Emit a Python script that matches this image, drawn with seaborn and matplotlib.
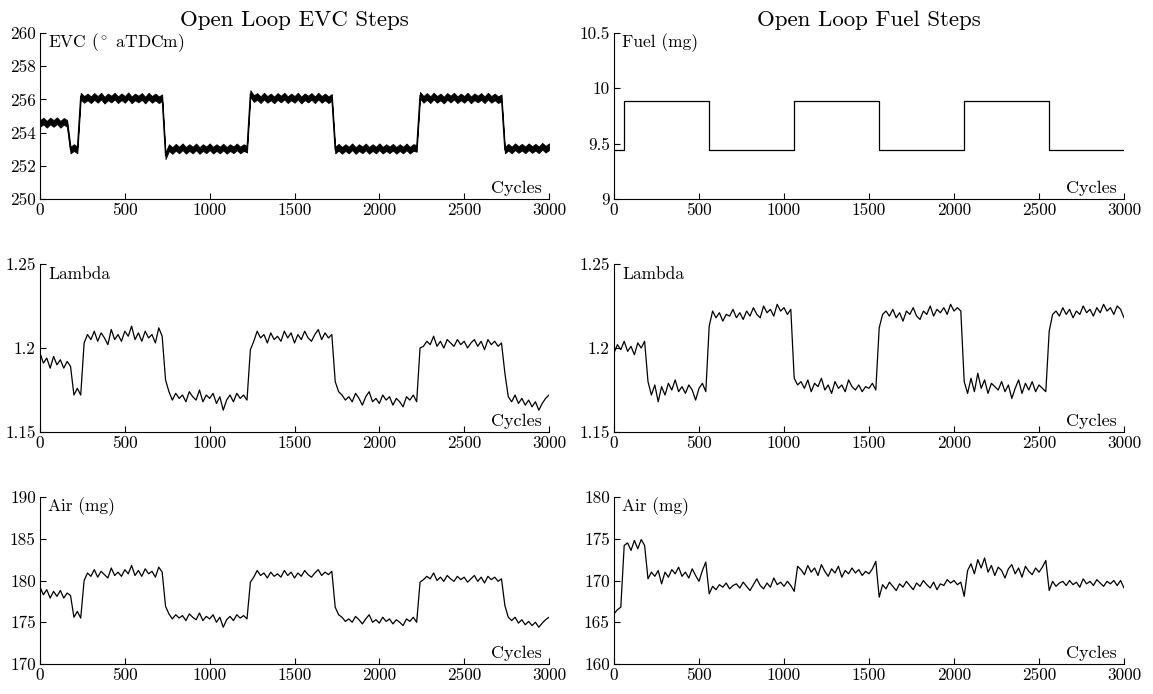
import numpy as np
import matplotlib
matplotlib.use("Agg")
import matplotlib.pyplot as plt
import seaborn as sns

# ---------------- data ----------------
cycles = np.arange(0, 3001, 20)

# Left column: open-loop EVC steps
evc_center = [254.55, 254.7, 254.5, 254.7, 254.55, 254.72, 254.5, 254.68, 254.55,
              252.95, 253.1, 252.95,
              256.2, 256.0, 256.15, 255.98, 256.18, 256.0, 256.2, 255.95, 256.15, 256.02, 256.2, 255.98, 256.16,
              256.0, 256.22, 255.97, 256.15, 256.02, 256.18, 255.96, 256.2, 256.0, 256.15, 255.98, 256.1,
              252.6,
              253.1, 252.92, 253.12, 252.95, 253.15, 252.93, 253.1, 252.95, 253.14, 252.92, 253.1, 252.96,
              253.15, 252.94, 253.1, 252.95, 253.13, 252.93, 253.1, 252.96, 253.14, 252.95, 253.1, 253.0,
              256.35,
              256.05, 256.18, 255.98, 256.2, 256.0, 256.15, 255.97, 256.18, 256.02, 256.2, 255.98, 256.15,
              256.0, 256.2, 255.96, 256.16, 256.02, 256.18, 255.98, 256.2, 256.0, 256.15, 255.98, 256.12,
              252.95, 253.12, 252.93, 253.1, 252.95, 253.15, 252.92, 253.1, 252.96, 253.14, 252.93, 253.1,
              252.95, 253.15, 252.94, 253.1, 252.96, 253.12, 252.93, 253.1, 252.95, 253.14, 252.94, 253.1, 253.05,
              256.25, 256.0, 256.18, 255.98, 256.2, 256.0, 256.15, 255.96, 256.18, 256.02, 256.2, 255.98,
              256.15, 256.0, 256.2, 255.97, 256.16, 256.02, 256.18, 255.98, 256.2, 256.0, 256.15, 255.98, 256.1,
              252.95, 253.12, 252.95, 253.15, 252.98, 253.12, 252.96, 253.15, 252.98, 253.12, 252.96, 253.18,
              253.0, 253.15]
evc_band = 0.2

lambda_evc = [1.197, 1.191, 1.194, 1.188, 1.195, 1.190, 1.193, 1.188, 1.192,
              1.189, 1.172, 1.176, 1.172, 1.203,
              1.208, 1.205, 1.210, 1.204, 1.209, 1.206, 1.202, 1.211, 1.205, 1.208, 1.204, 1.210,
              1.207, 1.213, 1.205, 1.209, 1.204, 1.210, 1.206, 1.208, 1.203, 1.212, 1.207,
              1.181, 1.174,
              1.169, 1.173, 1.170, 1.172, 1.168, 1.174, 1.171, 1.169, 1.175, 1.168, 1.172, 1.170,
              1.173, 1.167, 1.171, 1.163, 1.169, 1.172, 1.168, 1.173, 1.170, 1.172, 1.169,
              1.199, 1.204,
              1.210, 1.206, 1.208, 1.203, 1.209, 1.205, 1.207, 1.204, 1.210, 1.206, 1.209, 1.203,
              1.208, 1.205, 1.210, 1.206, 1.204, 1.208, 1.211, 1.205, 1.209, 1.206, 1.208,
              1.180, 1.174,
              1.172, 1.169, 1.171, 1.168, 1.173, 1.170, 1.166, 1.171, 1.174, 1.168, 1.170, 1.167,
              1.172, 1.169, 1.171, 1.166, 1.170, 1.168, 1.165, 1.171, 1.169, 1.172, 1.168,
              1.200, 1.201,
              1.204, 1.202, 1.207, 1.201, 1.204, 1.200, 1.205, 1.203, 1.201, 1.205, 1.202, 1.204,
              1.200, 1.203, 1.205, 1.201, 1.204, 1.199, 1.205, 1.202, 1.204, 1.201, 1.203,
              1.185, 1.171,
              1.168, 1.172, 1.167, 1.170, 1.166, 1.169, 1.165, 1.168, 1.163, 1.167, 1.170, 1.172]

air_evc = [179.2, 178.3, 178.9, 177.9, 178.7, 178.1, 178.8, 177.9, 178.5,
           178.2, 175.6, 176.3, 175.5, 180.0,
           180.9, 180.5, 181.3, 180.4, 181.1, 180.7, 180.3, 181.5, 180.6, 181.0, 180.5, 181.3,
           180.8, 181.8, 180.6, 181.2, 180.5, 181.4, 180.8, 181.1, 180.4, 181.6, 181.0,
           176.9, 176.0,
           175.4, 175.9, 175.5, 175.8, 175.2, 176.0, 175.6, 175.3, 176.1, 175.2, 175.7, 175.4,
           175.9, 175.0, 175.6, 174.4, 175.3, 175.7, 175.2, 175.9, 175.5, 175.8, 175.4,
           179.8, 180.4,
           181.2, 180.6, 180.9, 180.3, 181.0, 180.5, 180.8, 180.4, 181.2, 180.6, 181.0, 180.3,
           180.9, 180.5, 181.2, 180.7, 180.4, 180.9, 181.3, 180.6, 181.0, 180.7, 181.1,
           176.8, 175.9,
           175.6, 175.1, 175.4, 175.0, 175.7, 175.3, 174.8, 175.4, 175.9, 175.0, 175.3, 174.9,
           175.6, 175.1, 175.4, 174.8, 175.3, 175.0, 174.6, 175.4, 175.1, 175.6, 175.0,
           179.8, 180.1,
           180.5, 180.2, 180.9, 180.0, 180.4, 179.9, 180.6, 180.2, 179.9, 180.5, 180.1, 180.4,
           179.8, 180.2, 180.6, 179.9, 180.4, 179.7, 180.5, 180.1, 180.4, 179.9, 180.2,
           177.0, 175.6,
           175.2, 175.6, 174.9, 175.3, 174.7, 175.1, 174.6, 175.0, 174.4, 174.9, 175.3, 175.6]

# Right column: open-loop fuel steps
fuel_step_cycles = [0, 60, 560, 1060, 1560, 2060, 2560, 3000]
fuel_levels = [9.445, 9.885, 9.445, 9.885, 9.445, 9.885, 9.445, 9.445]

lambda_fuel = [1.197, 1.202, 1.199, 1.204, 1.198, 1.201, 1.196, 1.203, 1.200, 1.204,
               1.180, 1.172,
               1.178, 1.168, 1.177, 1.172, 1.179, 1.175, 1.181, 1.174, 1.177, 1.173, 1.178, 1.175,
               1.169, 1.176, 1.179, 1.174,
               1.213, 1.222,
               1.218, 1.221, 1.216, 1.220, 1.219, 1.223, 1.218, 1.221, 1.217, 1.222, 1.219, 1.224,
               1.220, 1.218, 1.225, 1.221, 1.223, 1.219, 1.226, 1.222, 1.224, 1.220, 1.223,
               1.182, 1.178,
               1.180, 1.176, 1.181, 1.174, 1.179, 1.177, 1.182, 1.175, 1.178, 1.173, 1.180, 1.176,
               1.178, 1.174, 1.181, 1.177, 1.175, 1.178, 1.174, 1.177, 1.176, 1.179, 1.175,
               1.212, 1.220,
               1.222, 1.219, 1.223, 1.218, 1.221, 1.216, 1.222, 1.220, 1.224, 1.219, 1.217, 1.222,
               1.220, 1.225, 1.219, 1.223, 1.221, 1.224, 1.220, 1.226, 1.222, 1.224, 1.222,
               1.180, 1.173,
               1.182, 1.174, 1.185, 1.176, 1.181, 1.173, 1.179, 1.177, 1.175, 1.180, 1.174, 1.178,
               1.170, 1.176, 1.181, 1.173, 1.179, 1.175, 1.180, 1.174, 1.178, 1.176, 1.174,
               1.210, 1.220,
               1.222, 1.219, 1.224, 1.220, 1.223, 1.218, 1.222, 1.220, 1.225, 1.221, 1.223, 1.219,
               1.224, 1.221, 1.226, 1.222, 1.224, 1.220, 1.225, 1.223, 1.218]

air_fuel = [166.0, 166.5, 166.8, 174.2, 174.5, 173.6, 174.8, 173.8, 174.9, 174.2, 170.2, 171.0,
            170.5, 171.2, 169.6, 171.0, 170.4, 171.3, 170.8, 171.6, 170.5, 171.0, 170.3, 171.4,
            170.6, 169.9, 171.2, 172.2,
            168.4,
            169.3, 168.9, 169.5, 169.2, 169.7, 169.0, 169.4, 169.6, 169.1, 169.8, 169.3, 168.8,
            169.5, 170.2, 169.4, 169.0, 169.7, 169.2, 170.3, 169.5, 169.8, 169.3, 169.9, 169.4,
            168.7, 171.7,
            171.3, 170.7, 171.8, 171.0, 171.5, 170.6, 171.9, 171.1, 170.5, 171.4, 170.9, 171.7,
            170.4, 171.2, 170.8, 171.5, 170.9, 171.3, 170.6, 171.1, 170.8, 171.4, 172.3,
            168.0,
            169.5, 169.0, 169.8, 169.3, 168.8, 169.6, 169.2, 169.9, 169.4, 168.9, 169.7, 169.3,
            170.0, 169.5, 169.1, 169.8, 168.9, 169.6, 169.4, 170.1, 169.7, 170.0, 169.5, 169.8,
            168.1, 171.2,
            172.0, 170.8, 172.5, 171.5, 172.7, 171.0, 171.8, 170.6, 171.6, 171.2, 170.3, 171.4,
            171.9, 170.8, 171.5, 170.4, 171.7, 171.1, 170.7, 171.5, 171.0, 171.6, 172.4,
            168.8, 169.9,
            169.3, 169.7, 169.9, 169.4, 170.0, 169.5, 169.8, 169.2, 170.2, 169.6, 169.9, 169.4,
            170.1, 169.7, 169.3, 169.9, 169.6, 170.0, 169.4, 170.0, 169.1]

titles = ["Open Loop EVC Steps", "Open Loop Fuel Steps"]
xticks = [0, 500, 1000, 1500, 2000, 2500, 3000]
xtick_labels = ["0", "500", "1000", "1500", "2000", "2500", "3000"]

evc_yticks = [250, 252, 254, 256, 258, 260]
evc_ylabels = ["250", "252", "254", "256", "258", "260"]
fuel_yticks = [9, 9.5, 10, 10.5]
fuel_ylabels = ["9", "9.5", "10", "10.5"]
lambda_yticks = [1.15, 1.2, 1.25]
lambda_ylabels = ["1.15", "1.2", "1.25"]
airL_yticks = [170, 175, 180, 185, 190]
airL_ylabels = ["170", "175", "180", "185", "190"]
airR_yticks = [160, 165, 170, 175, 180]
airR_ylabels = ["160", "165", "170", "175", "180"]

# ---------------- style ----------------
sns.set_theme(style="ticks")
plt.rcParams["font.family"] = "serif"
plt.rcParams["font.serif"] = ["cmr10", "DejaVu Serif"]
plt.rcParams["mathtext.fontset"] = "cm"
plt.rcParams["axes.formatter.use_mathtext"] = True
plt.rcParams["axes.unicode_minus"] = False

fig = plt.figure(figsize=(11.53, 6.94), dpi=100)

col_left = [40 / 1153, 614 / 1153]
col_width = [509 / 1153, 510 / 1153]
row_bottom = [1 - 199 / 694, 1 - 432 / 694, 1 - 664 / 694]
row_height = [166 / 694, 168 / 694, 167 / 694]

axes = [[None, None] for _ in range(3)]
for r in range(3):
    for c in range(2):
        axes[r][c] = fig.add_axes([col_left[c], row_bottom[r], col_width[c], row_height[r]])

LW = 0.9
K = "black"

# EVC
ax = axes[0][0]
evc = np.array(evc_center)
ax.fill_between(cycles, evc - evc_band, evc + evc_band, color=K, lw=0.6)
sns.lineplot(x=cycles, y=evc, ax=ax, color=K, lw=LW)
# Fuel
ax = axes[0][1]
sns.lineplot(x=fuel_step_cycles, y=fuel_levels, ax=ax, color=K, lw=LW, drawstyle="steps-post")
# Lambda
sns.lineplot(x=cycles, y=lambda_evc, ax=axes[1][0], color=K, lw=LW)
sns.lineplot(x=cycles, y=lambda_fuel, ax=axes[1][1], color=K, lw=LW)
# Air
sns.lineplot(x=cycles, y=air_evc, ax=axes[2][0], color=K, lw=LW)
sns.lineplot(x=cycles, y=air_fuel, ax=axes[2][1], color=K, lw=LW)

yspecs = [
    [(250, 260, evc_yticks, evc_ylabels, r"EVC ($^\circ$ aTDCm)"), (9, 10.5, fuel_yticks, fuel_ylabels, "Fuel (mg)")],
    [(1.15, 1.25, lambda_yticks, lambda_ylabels, "Lambda"), (1.15, 1.25, lambda_yticks, lambda_ylabels, "Lambda")],
    [(170, 190, airL_yticks, airL_ylabels, "Air (mg)"), (160, 180, airR_yticks, airR_ylabels, "Air (mg)")],
]

for r in range(3):
    for c in range(2):
        ax = axes[r][c]
        lo, hi, yt, yl, lab = yspecs[r][c]
        ax.set_xlim(0, 3000)
        ax.set_ylim(lo, hi)
        ax.set_xticks(xticks, xtick_labels)
        ax.set_yticks(yt, yl)
        ax.set_xlabel("")
        ax.set_ylabel("")
        for s in ["top", "right"]:
            ax.spines[s].set_visible(False)
        for s in ["left", "bottom"]:
            ax.spines[s].set_color(K)
            ax.spines[s].set_linewidth(0.8)
        ax.tick_params(direction="in", length=4, width=0.8, color=K, labelsize=12.3,
                       labelcolor=K, pad=3)
        ax.text(0.016, 0.94, lab, transform=ax.transAxes, ha="left", va="center",
                fontsize=12.5, color=K)
        ax.text(0.986, 0.065, "Cycles", transform=ax.transAxes, ha="right", va="center",
                fontsize=13, color=K)
        ax.set_facecolor("white")
        if r == 0:
            ax.set_title(titles[c], fontsize=16.5, pad=5, color=K)

fig.patch.set_facecolor("white")
fig.savefig("out.png", dpi=100, facecolor="white")
